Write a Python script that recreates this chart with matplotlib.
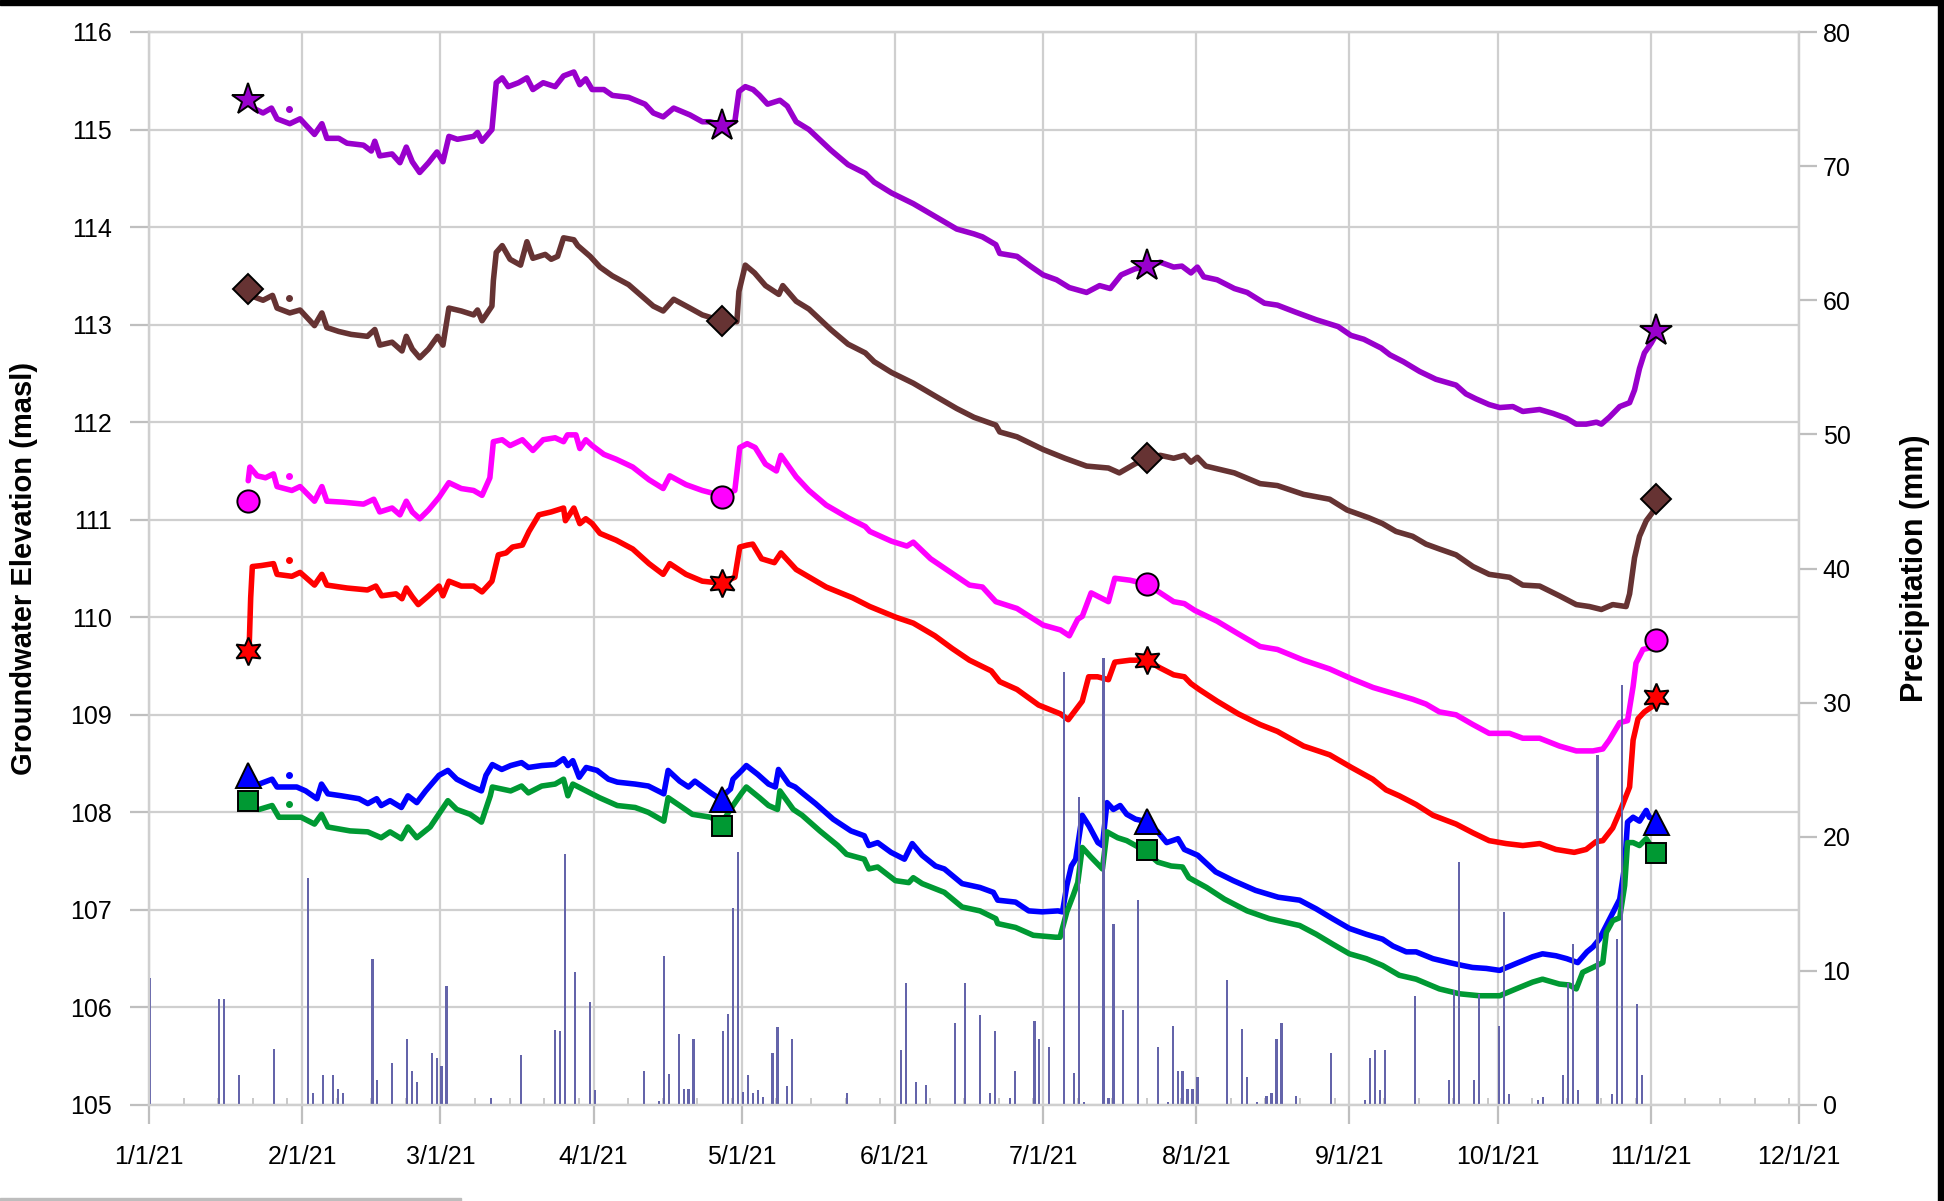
import numpy as np
import matplotlib
matplotlib.use('Agg')
import matplotlib.pyplot as plt
import matplotlib.dates as mdates
from matplotlib.patches import Rectangle

plt.rcParams['font.family'] = ['Liberation Sans', 'DejaVu Sans']

# day offsets from 1 Jan 2021, level in masl
purple = [(20.5,115.25),(21.5,115.21),(23.1,115.17),(24.8,115.22),(25.9,115.11),(28.5,115.06),(30.6,115.11),
          (33.5,114.95),(35,115.06),(36,114.91),(38.4,114.91),(40.1,114.86),(43.4,114.84),(45,114.78),(45.7,114.88),
          (46.7,114.73),(49.2,114.75),(50.8,114.66),(52.1,114.82),(53.3,114.67),(54.8,114.56),(56.6,114.66),
          (58.3,114.77),(59.5,114.67),(60.7,114.93),(62.4,114.90),(65.7,114.93),(66.5,114.97),(67.4,114.88),
          (69.4,115.0),(69.8,115.21),(70.3,115.48),(71.5,115.53),(72.7,115.44),(74.8,115.48),(76.5,115.53),
          (77.7,115.41),(79.8,115.48),(82.2,115.44),(83.9,115.55),(86,115.59),(87.2,115.46),(88.4,115.52),
          (89.7,115.41),(92.1,115.41),(93.8,115.35),(97.1,115.33),(100.4,115.26),(102.1,115.17),(104.1,115.13),
          (106.2,115.22),(109.5,115.15),(112,115.08),(113.6,115.08),(115.7,115.05),(118.6,115.08),(119.4,115.39),
          (120.7,115.44),(122.3,115.41),(123.6,115.35),(125.2,115.26),(127.7,115.30),(129.2,115.24),(131,115.08),
          (133.6,115.0),(138,114.79),(141.5,114.64),(145,114.55),(146.8,114.46),(150.3,114.35),(154.7,114.24),
          (159.1,114.11),(163.5,113.98),(167,113.93),(168.7,113.90),(171.4,113.82),(172.2,113.73),(175.7,113.70),
          (178.4,113.60),(181,113.51),(183.7,113.46),(186.3,113.38),(189.8,113.33),(192.4,113.40),(194.6,113.37),
          (196.8,113.51),(199.5,113.57),(201.9,113.60),(204.7,113.64),(207.4,113.59),(209.1,113.60),(210.9,113.53),
          (212.2,113.59),(213.5,113.49),(216.2,113.46),(219.7,113.37),(222.3,113.33),(225.8,113.22),(228.4,113.2),
          (232,113.13),(236.3,113.05),(240.7,112.98),(243.3,112.89),(245.9,112.85),(249.4,112.76),(251.2,112.69),
          (253.9,112.62),(257.2,112.52),(260.5,112.44),(264.6,112.38),(266.6,112.29),(268.6,112.24),(271.3,112.18),
          (273.4,112.15),(276.1,112.16),(278.1,112.11),(281.5,112.13),(284.2,112.09),(286.9,112.04),(288.9,111.98),
          (290.9,111.98),(293,112.0),(294,111.98),(295.6,112.05),(297.7,112.16),(299.7,112.2),(300.7,112.33),
          (301.7,112.55),(302.7,112.71),(304.1,112.81),(305.1,112.90)]

brown = [(20.5,113.31),(21.5,113.28),(23.1,113.25),(25,113.30),(25.9,113.17),(28.5,113.12),(30.6,113.15),
         (33.5,112.99),(35,113.12),(36,112.97),(38.4,112.93),(40.9,112.90),(44.2,112.88),(45.7,112.95),(46.7,112.79),
         (49.2,112.82),(51.2,112.73),(52.1,112.88),(53.3,112.75),(54.8,112.66),(56.6,112.75),(58.4,112.88),
         (59.5,112.79),(60.7,113.17),(63.2,113.14),(65.7,113.10),(66.5,113.15),(67.4,113.04),(69.4,113.19),
         (69.7,113.45),(70.3,113.74),(71.5,113.81),(73.1,113.67),(75.2,113.61),(76.5,113.85),(77.7,113.68),
         (80.2,113.72),(81.4,113.67),(82.7,113.70),(83.9,113.89),(86,113.87),(86.8,113.81),(89.3,113.70),
         (91.3,113.59),(93.8,113.50),(97.1,113.41),(99.6,113.30),(102.1,113.19),(104.1,113.14),(106.2,113.26),
         (109.5,113.17),(112,113.10),(114.5,113.06),(115.7,113.04),(119,113.03),(119.4,113.34),(120.7,113.61),
         (122.6,113.53),(124.8,113.40),(127.5,113.31),(128.3,113.40),(131,113.24),(133.6,113.16),(138,112.95),
         (141.5,112.80),(145,112.71),(146.8,112.62),(150.3,112.51),(154.7,112.40),(159.1,112.27),(163.5,112.14),
         (167,112.05),(171.4,111.97),(172.2,111.90),(175.7,111.85),(181,111.72),(185.4,111.63),(189.8,111.55),
         (194.2,111.53),(196.4,111.48),(199.5,111.57),(201.9,111.63),(204.7,111.66),(207.4,111.63),(209.6,111.66),
         (210.9,111.59),(212.2,111.64),(213.9,111.55),(219.7,111.48),(224.9,111.37),(228.4,111.35),(233.7,111.26),
         (239,111.21),(242.5,111.10),(246.9,111.02),(249.7,110.96),(252.4,110.88),(255.8,110.83),(258.5,110.75),
         (261.2,110.70),(264.6,110.64),(268,110.52),(271.3,110.44),(275.4,110.41),(278.1,110.33),(281.5,110.32),
         (285.5,110.22),(288.9,110.13),(291.6,110.11),(294,110.08),(296.3,110.13),(299,110.11),(299.7,110.24),
         (300.7,110.61),(301.7,110.83),(303.1,110.99),(304.4,111.08),(305.1,111.15)]

magenta = [(20.1,111.40),(20.4,111.54),(21.9,111.45),(23.6,111.43),(25.2,111.47),(25.9,111.34),(28.9,111.30),
           (30.6,111.34),(33.5,111.19),(35,111.34),(36,111.19),(39.3,111.18),(43.4,111.16),(45.5,111.21),
           (46.7,111.08),(49.2,111.12),(50.8,111.05),(52.1,111.19),(53.3,111.08),(54.8,111.01),(56.6,111.10),
           (58.7,111.23),(60.7,111.38),(63.2,111.32),(65.7,111.30),(67.4,111.25),(69,111.43),(69.7,111.80),
           (71.5,111.82),(73.1,111.76),(75.6,111.82),(77.7,111.71),(79.8,111.82),(82.2,111.84),(83.9,111.80),
           (84.7,111.87),(86.4,111.87),(87.2,111.73),(88.4,111.82),(89.7,111.76),(92.1,111.67),(94.6,111.62),
           (97.9,111.54),(101.2,111.41),(104.1,111.32),(105.4,111.45),(108.7,111.36),(112,111.30),(115.7,111.25),
           (118.6,111.30),(119.6,111.74),(121.1,111.78),(122.7,111.74),(124.8,111.57),(127,111.50),(127.9,111.66),
           (131,111.44),(133.6,111.30),(137.1,111.15),(141.5,111.02),(145,110.93),(145.9,110.88),(150.3,110.78),
           (153.4,110.73),(154.7,110.77),(158.2,110.60),(162.6,110.45),(166.1,110.33),(168.7,110.31),(171.4,110.16),
           (175.7,110.09),(181,109.92),(184.5,109.87),(186.3,109.81),(188,109.98),(188.9,110.01),(190.7,110.25),
           (194.2,110.16),(195.5,110.40),(198.6,110.38),(201.9,110.34),(204.7,110.25),(207.4,110.16),(209.6,110.14),
           (211.7,110.07),(216.2,109.96),(220.5,109.83),(224.9,109.70),(228.4,109.67),(233.7,109.56),(239,109.47),
           (243.4,109.37),(247.8,109.28),(251.8,109.22),(255.8,109.16),(258.5,109.11),(261.2,109.03),(264.6,109.00),
           (268,108.90),(271.3,108.81),(275.4,108.81),(278.1,108.76),(281.5,108.76),(285.5,108.68),(288.9,108.63),
           (292.3,108.63),(294.3,108.65),(295.6,108.74),(297.7,108.92),(299.3,108.94),(300.4,109.29),(301,109.53),
           (302.4,109.67),(304.1,109.69),(305.1,109.75)]

red = [(20.3,109.72),(20.6,110.2),(20.9,110.52),(22.7,110.53),(25.2,110.55),(25.9,110.44),(28.9,110.42),
       (30.6,110.46),(33.5,110.33),(35,110.44),(36,110.33),(40.1,110.30),(44.2,110.28),(45.9,110.32),(47.1,110.22),
       (50,110.24),(51.2,110.19),(52.1,110.30),(53.3,110.21),(54.5,110.13),(56.6,110.22),(58.7,110.32),(59.5,110.22),
       (60.7,110.37),(63.2,110.32),(65.7,110.32),(67.4,110.26),(69.4,110.37),(70.7,110.64),(72.3,110.66),
       (73.6,110.72),(75.6,110.74),(76.9,110.88),(78.9,111.05),(81.4,111.08),(83.9,111.12),(84.3,110.99),
       (86,111.12),(87.2,110.96),(88.4,111.01),(89.7,110.96),(91.3,110.86),(94.6,110.79),(97.9,110.70),
       (101.2,110.55),(104.1,110.44),(105.4,110.55),(108.7,110.44),(112,110.37),(115.7,110.35),(118.6,110.41),
       (119.6,110.72),(121.1,110.74),(122.2,110.75),(124,110.60),(126.6,110.56),(127.9,110.66),(131,110.49),
       (137.1,110.31),(142.4,110.20),(145.9,110.11),(151.2,110.00),(154.7,109.94),(159.1,109.81),(162.6,109.68),
       (166.1,109.56),(170.5,109.45),(172.2,109.34),(175.7,109.26),(180.1,109.10),(184.5,109.01),(186.1,108.95),
       (188.9,109.14),(190.2,109.39),(192,109.39),(194.2,109.36),(195.5,109.54),(198.6,109.56),(201.9,109.56),
       (204.7,109.48),(207.4,109.41),(209.6,109.39),(210.9,109.32),(212.6,109.26),(216.2,109.14),(220.5,109.01),
       (224.9,108.90),(228.4,108.83),(233.7,108.68),(239,108.59),(243.4,108.46),(247.7,108.34),(250.4,108.23),
       (253.1,108.17),(256.5,108.08),(259.9,107.97),(264.6,107.88),(268,107.79),(271.3,107.71),(274.7,107.68),
       (278.1,107.66),(281.5,107.68),(284.8,107.62),(288.5,107.59),(290.9,107.62),(292.9,107.70),(294.3,107.71),
       (296.3,107.84),(298,108.04),(299.7,108.26),(300.4,108.74),(301.4,108.96),(302.7,109.03),(304.4,109.09),
       (305.1,109.15)]

blue = [(20.5,108.30),(22.3,108.29),(24.9,108.34),(25.9,108.26),(29.9,108.26),(31.7,108.22),(34,108.14),
        (34.9,108.29),(36.2,108.19),(38.9,108.17),(42.5,108.14),(44.3,108.09),(46.1,108.14),(47,108.07),
        (48.8,108.12),(51.1,108.05),(52.4,108.17),(54.2,108.10),(56,108.22),(58.7,108.38),(60.5,108.43),
        (62.3,108.34),(65,108.27),(67.3,108.22),(68.2,108.38),(69.5,108.49),(71.4,108.44),(73.2,108.48),
        (75.4,108.51),(76.8,108.46),(79.5,108.48),(82.2,108.49),(83.9,108.55),(84.8,108.48),(85.8,108.53),
        (87.1,108.36),(88.5,108.46),(90.7,108.43),(93,108.34),(94.8,108.31),(98.4,108.29),(101.1,108.27),
        (104.2,108.19),(105.1,108.43),(107.4,108.32),(109.2,108.26),(110.5,108.32),(113.7,108.20),(115.5,108.14),
        (117.7,108.24),(118.2,108.34),(120,108.43),(120.9,108.48),(123.2,108.39),(125.4,108.29),(126.8,108.26),
        (127.4,108.44),(129.5,108.29),(130.8,108.26),(132.2,108.20),(134.9,108.09),(138.5,107.93),(142.1,107.81),
        (144.8,107.76),(145.7,107.66),(147.5,107.69),(150.2,107.59),(152.9,107.52),(154.5,107.68),(156.5,107.56),
        (159.2,107.45),(161,107.42),(164.6,107.27),(168.2,107.23),(170.9,107.18),(171.8,107.10),(175.4,107.08),
        (178.1,106.99),(180.8,106.98),(184,106.99),(184.9,106.98),(185.8,107.25),(186.7,107.45),(187.6,107.52),
        (188.9,107.97),(190.3,107.86),(192.1,107.69),(193,107.66),(193.9,108.10),(195.2,108.03),(196.6,108.07),
        (197.9,107.98),(199.7,107.93),(201.5,107.91),(204.2,107.80),(206,107.69),(208.3,107.73),(209.6,107.62),
        (212.3,107.56),(215.9,107.39),(219.5,107.30),(224,107.20),(228.6,107.13),(232.9,107.10),(236.3,107.01),
        (239.6,106.91),(243,106.81),(246.4,106.75),(249.7,106.70),(251.8,106.63),(254.5,106.57),(256.5,106.57),
        (259.9,106.50),(263.2,106.46),(265.9,106.43),(267.9,106.41),(270.7,106.40),(273.4,106.38),(276.7,106.45),
        (280.1,106.52),(282.1,106.55),(284.8,106.53),(287,106.50),(289.2,106.46),(291.1,106.57),(292.3,106.62),
        (293.6,106.70),(295,106.84),(297,107.04),(297.7,107.11),(298.7,107.45),(299.3,107.90),(300.4,107.95),
        (301.7,107.91),(303.1,108.02),(303.7,107.95),(305.1,107.92)]

green = [(20.5,108.05),(22.3,108.03),(24.9,108.07),(26.3,107.95),(30.8,107.95),(33.5,107.88),(34.9,107.98),
         (36.2,107.85),(40.7,107.81),(44.3,107.80),(47,107.74),(48.8,107.80),(51.1,107.73),(52.4,107.85),
         (54.2,107.74),(56.9,107.85),(60.5,108.12),(62.3,108.03),(65,107.98),(67.3,107.90),(69.1,108.17),
         (69.5,108.26),(73.2,108.22),(75.4,108.27),(76.8,108.20),(79.5,108.27),(82.2,108.29),(83.9,108.34),
         (84.8,108.17),(85.8,108.29),(88.5,108.22),(91.2,108.15),(94.8,108.07),(98.4,108.05),(101.1,108.0),
         (104.2,107.91),(105.1,108.15),(107.4,108.07),(110,107.98),(113.7,107.95),(115.8,107.88),(118.2,108.07),
         (120,108.20),(120.9,108.26),(123.6,108.15),(125.4,108.07),(127.2,108.03),(127.7,108.22),(130.4,108.03),
         (132.2,107.97),(135.8,107.81),(139.4,107.66),(141.2,107.57),(144.8,107.52),(145.7,107.42),(147.5,107.44),
         (151.1,107.30),(153.8,107.28),(154.7,107.33),(156.5,107.27),(161,107.18),(164.6,107.03),(168.2,106.99),
         (171.4,106.91),(171.8,106.86),(175.4,106.82),(179,106.74),(183.5,106.72),(184.4,106.72),(185.8,106.98),
         (187.1,107.15),(188,107.28),(188.9,107.64),(190.7,107.54),(193,107.42),(193.9,107.80),(196.1,107.74),
         (197.9,107.71),(201.5,107.61),(204.2,107.49),(206.9,107.45),(209.2,107.44),(210.5,107.33),(214.1,107.23),
         (217.7,107.11),(222.3,106.99),(226.8,106.91),(232.9,106.84),(236.3,106.75),(239.6,106.65),(243,106.55),
         (246.4,106.50),(249.7,106.43),(253.1,106.33),(256.5,106.29),(261.2,106.19),(265.3,106.14),(269.3,106.12),
         (273.4,106.12),(276.7,106.19),(280.1,106.26),(282.1,106.29),(285.5,106.24),(287.5,106.23),(288.9,106.19),
         (290.2,106.36),(292.3,106.41),(294.3,106.46),(295,106.77),(296.3,106.89),(297.7,106.92),(298.7,107.25),
         (299.3,107.69),(300.4,107.69),(301.7,107.66),(303.1,107.73),(303.7,107.68),(305.1,107.62)]

# manual measurements (day offsets) and levels
manual_days = [20, 116, 202, 305]
manual_purple = [115.30, 115.04, 113.60, 112.93]
manual_brown = [113.37, 113.04, 111.63, 111.21]
manual_magenta = [111.19, 111.23, 110.34, 109.77]
manual_red = [109.65, 110.35, 109.56, 109.18]
manual_blue = [108.38, 108.14, 107.91, 107.90]
manual_green = [108.12, 107.86, 107.61, 107.58]

# odd single logger reading near day 28
stray_day = 28.3
stray_vals = [115.21, 113.27, 111.45, 110.59, 108.38, 108.09]

# daily precipitation (day offset, mm)
precip = [(0,9.5),(14,7.9),(15,7.9),(18,2.2),(25,4.2),(32,16.9),(33,0.9),(35,2.2),(37,2.2),(38,1.2),(39,0.9),
          (45,10.9),(46,1.9),(49,3.1),(52,4.9),(53,2.5),(54,1.7),(57,3.9),(58,3.5),(59,2.9),(60,8.9),(69,0.5),
          (75,3.7),(82,5.6),(83,5.5),(84,18.7),(86,9.9),(89,7.7),(90,1.1),(100,2.5),(103,0.3),(104,11.1),
          (105,2.3),(107,5.3),(108,1.2),(109,1.2),(110,4.9),(116,5.5),(117,6.8),(118,14.7),(119,18.9),(120,1.0),
          (121,2.2),(122,0.9),(123,1.1),(124,0.6),(126,3.9),(127,5.8),(129,1.4),(130,4.9),(141,0.9),(152,4.1),
          (153,9.1),(155,1.7),(157,1.5),(163,6.1),(165,9.1),(168,6.7),(170,0.9),(171,5.5),(174,0.5),(175,2.5),
          (179,6.3),(180,4.9),(182,4.3),(185,32.3),(187,2.4),(188,23.0),(189,0.25),(193,33.3),(194,0.5),
          (195,13.5),(197,7.1),(200,15.3),(204,4.3),(206,0.25),(207,5.9),(208,2.5),(209,2.5),(210,1.2),
          (211,1.2),(212,2.1),(218,9.3),(221,5.7),(222,2.1),(224,0.25),(226,0.7),(227,0.9),(228,4.9),(229,6.1),
          (232,0.7),(239,3.9),(246,0.4),(247,3.5),(248,4.1),(249,1.1),(250,4.1),(256,8.1),(263,1.9),(264,8.6),
          (265,18.1),(268,1.9),(269,8.3),(273,5.9),(274,14.4),(275,0.8),(281,0.4),(282,0.6),(286,2.2),(287,9.1),
          (288,12.0),(289,1.1),(293,26.1),(296,0.8),(297,12.4),(298,31.3),(301,7.5),(302,2.2)]

start = np.datetime64('2021-01-01T00:00')


def to_dates(days):
    hrs = np.round(np.asarray(days, dtype=float) * 24).astype(int)
    return start + hrs.astype('timedelta64[h]')


fig = plt.figure(figsize=(19.44, 12.01), dpi=100)
ax = fig.add_axes([149/1944, 96/1201, 1650/1944, 1073/1201])
ax2 = ax.twinx()

grid_c = '#CFCFCF'
series = [(purple, '#9900CC'), (brown, '#663333'), (magenta, '#FF00FF'),
          (red, '#FF0000'), (blue, '#0000FF'), (green, '#009933')]
for s, c in series:
    d, v = zip(*s)
    ax.plot(to_dates(d), v, color=c, lw=4.0, solid_capstyle='round', solid_joinstyle='round', zorder=3)

for val, (s, c) in zip(stray_vals, series):
    ax.plot(to_dates([stray_day]), [val], 'o', color=c, ms=4, zorder=3)

mk = dict(ls='none', mec='black', mew=1.4, zorder=5)
md = to_dates(manual_days)
ax.plot(md, manual_purple, marker='*', ms=24, mfc='#9900CC', **mk)
ax.plot(md, manual_brown, marker='D', ms=15, mfc='#663333', **mk)
ax.plot(md, manual_magenta, marker='o', ms=16, mfc='#FF00FF', **mk)
ax.plot(md, manual_red, marker=(6, 1, 0), ms=20, mfc='#FF0000', **mk)
ax.plot(md, manual_blue, marker='^', ms=18, mfc='#0000FF', **mk)
ax.plot(md, manual_green, marker='s', ms=14, mfc='#009933', **mk)

pd_, pv = zip(*precip)
ax2.bar(to_dates(pd_), pv, width=0.45, align='edge', color='#6464AA', zorder=2)

ax.set_xlim(start, np.datetime64('2021-12-01T00:00'))
ax.set_ylim(105, 116)
ax2.set_ylim(0, 80)
ax.set_yticks(np.arange(105, 117, 1))
ax2.set_yticks(np.arange(0, 81, 10))

ax.xaxis.set_major_locator(mdates.MonthLocator())
ax.xaxis.set_major_formatter(mdates.DateFormatter('%-m/%-d/%y'))
ax.xaxis.set_minor_locator(mdates.DayLocator(bymonthday=[8, 15, 22, 29]))

ax.grid(True, which='major', color=grid_c, lw=1.6)
ax.set_axisbelow(True)

for a in (ax, ax2):
    for sp in a.spines.values():
        sp.set_color(grid_c)
        sp.set_linewidth(1.6)

ax.tick_params(axis='y', length=14, width=1.6, color='#BFBFBF', pad=13, labelsize=18)
ax.tick_params(axis='x', which='major', length=14, width=1.6, color='#BFBFBF', pad=15, labelsize=18)
ax.tick_params(axis='x', which='minor', direction='in', length=5, width=1.2, color='#BFBFBF')
ax2.tick_params(axis='y', length=13, width=1.6, color='#BFBFBF', pad=4, labelsize=18)

fig.text(24/1944, 1 - 568/1201, 'Groundwater Elevation (masl)', rotation=90, ha='center', va='center',
         fontsize=21, fontweight='bold')
fig.text(1915/1944, 1 - 568/1201, 'Precipitation (mm)', rotation=90, ha='center', va='center',
         fontsize=22, fontweight='bold')

# frame edges visible in the original screenshot
fig.patches.append(Rectangle((0, 1 - 5/1201), 1, 5/1201, transform=fig.transFigure, color='black', zorder=0))
fig.patches.append(Rectangle((1 - 6/1944, 0), 6/1944, 1, transform=fig.transFigure, color='black', zorder=0))
fig.patches.append(Rectangle((0, 0), 461/1944, 3/1201, transform=fig.transFigure, color='#BDBDBD', zorder=0))

fig.savefig('out.png', dpi=100)
